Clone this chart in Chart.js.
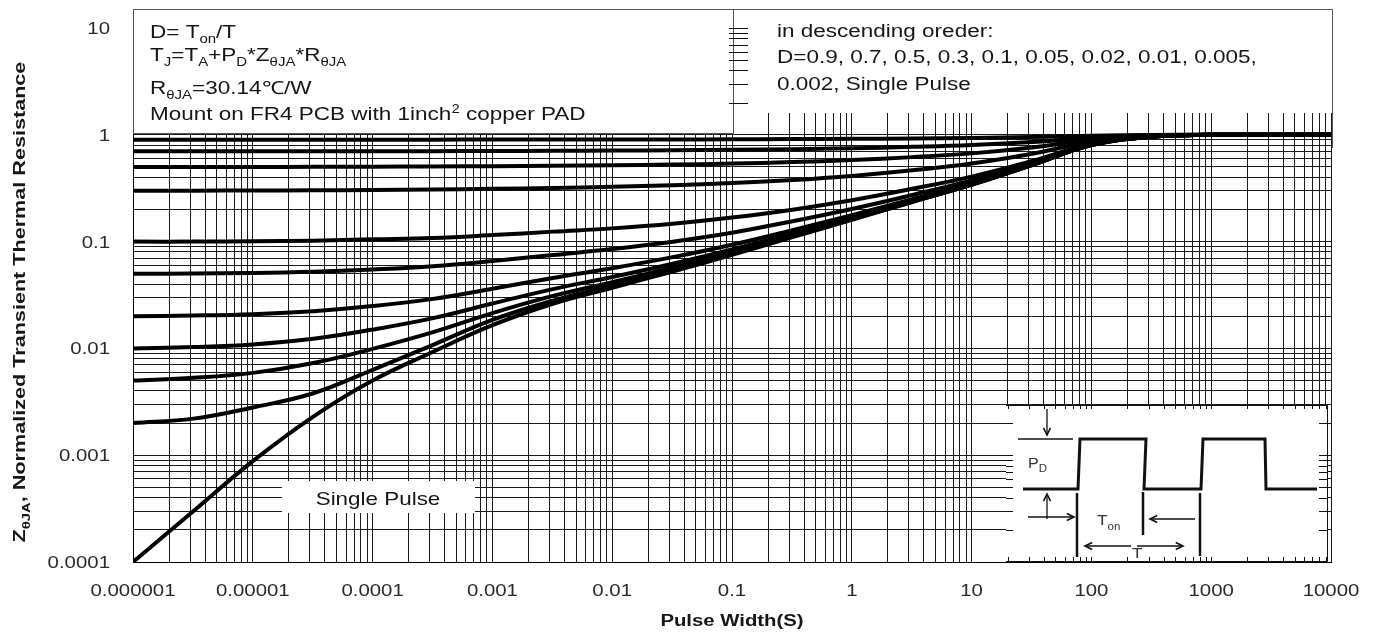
<!DOCTYPE html>
<html>
<head>
<meta charset="utf-8">
<script src="https://cdn.jsdelivr.net/npm/chart.js@4.4.1/dist/chart.umd.min.js"></script>
<style>
  html, body { margin: 0; padding: 0; background: #fff; }
  #wrap { width: 1379px; height: 633px; }
</style>
</head>
<body>
<div id="wrap"><canvas id="chart" width="1379" height="633"></canvas></div>
<script>
// pulse width (s) where each curve was read
const pulseWidth = [1e-6, 3.2e-6, 1e-5, 3.2e-5, 1e-4, 3.2e-4, 1e-3, 3.2e-3, 0.01, 0.032,
                    0.1, 0.32, 1, 3.2, 10, 32, 100, 320, 1000, 3200, 10000];

const seriesNames = ['D=0.9', 'D=0.7', 'D=0.5', 'D=0.3', 'D=0.1', 'D=0.05', 'D=0.02',
                     'D=0.01', 'D=0.005', 'D=0.002', 'Single Pulse'];

const zD09 = [0.9, 0.9, 0.9, 0.9, 0.901, 0.901, 0.902, 0.903, 0.904, 0.905, 0.907, 0.911, 0.916, 0.924, 0.934, 0.952, 0.98, 0.996, 1, 1, 1];
const zD07 = [0.7, 0.7, 0.7, 0.701, 0.702, 0.703, 0.705, 0.708, 0.711, 0.716, 0.723, 0.733, 0.748, 0.771, 0.802, 0.856, 0.94, 0.988, 1, 1, 1];
const zD05 = [0.5, 0.5, 0.5, 0.501, 0.503, 0.505, 0.508, 0.513, 0.519, 0.526, 0.538, 0.555, 0.58, 0.618, 0.67, 0.76, 0.9, 0.98, 1, 1, 1];
const zD03 = [0.3, 0.3, 0.301, 0.302, 0.304, 0.307, 0.312, 0.318, 0.326, 0.337, 0.353, 0.377, 0.412, 0.465, 0.538, 0.664, 0.86, 0.972, 1, 1, 1];
const zD01 = [0.1, 0.1, 0.101, 0.102, 0.105, 0.108, 0.115, 0.124, 0.133, 0.147, 0.168, 0.199, 0.244, 0.312, 0.406, 0.568, 0.82, 0.964, 1, 1, 1];
const zD005 = [0.05, 0.0503, 0.0508, 0.0522, 0.0548, 0.0588, 0.0657, 0.0749, 0.0852, 0.0999, 0.121, 0.155, 0.202, 0.273, 0.373, 0.544, 0.81, 0.962, 1, 1, 1];
const zD002 = [0.02, 0.0203, 0.0209, 0.0223, 0.0249, 0.0291, 0.0362, 0.0457, 0.0563, 0.0715, 0.0935, 0.128, 0.177, 0.25, 0.353, 0.53, 0.804, 0.961, 1, 1, 1];
const zD001 = [0.01, 0.0103, 0.0109, 0.0123, 0.015, 0.0192, 0.0263, 0.0359, 0.0466, 0.062, 0.0843, 0.119, 0.168, 0.243, 0.347, 0.525, 0.802, 0.96, 1, 1, 1];
const zD0005 = [0.005, 0.0053, 0.0059, 0.0073, 0.0099, 0.0142, 0.0214, 0.031, 0.0417, 0.0572, 0.0796, 0.1145, 0.164, 0.239, 0.343, 0.522, 0.801, 0.96, 1, 1, 1];
const zD0002 = [0.002, 0.0022, 0.0028, 0.0038, 0.0063, 0.0108, 0.0185, 0.028, 0.0388, 0.0544, 0.0768, 0.112, 0.162, 0.236, 0.341, 0.521, 0.8, 0.96, 1, 1, 1];
const zSingle = [0.0001, 0.0003, 0.00088, 0.0023, 0.005, 0.0093, 0.0165, 0.0262, 0.037, 0.0525, 0.075, 0.11, 0.16, 0.235, 0.34, 0.52, 0.8, 0.96, 1, 1, 1];

const xTickLabels = ['0.000001', '0.00001', '0.0001', '0.001', '0.01', '0.1', '1', '10', '100', '1000', '10000'];
const yTickLabels = ['0.0001', '0.001', '0.01', '0.1', '1', '10'];

const allSeries = [zD09, zD07, zD05, zD03, zD01, zD005, zD002, zD001, zD0005, zD0002, zSingle];

const FONT = '"Liberation Sans", Arial, sans-serif';
const INK = '#161616';

function logTicks(minExp, maxExp) {
  const t = [];
  for (let e = minExp; e < maxExp; e++) {
    for (let m = 1; m < 10; m++) t.push({ value: Number((m * Math.pow(10, e)).toPrecision(3)) });
  }
  t.push({ value: Math.pow(10, maxExp) });
  return t;
}

function fontFor(kind, size, weight) {
  const s = kind === 'n' ? size : Math.round(size * 0.68);
  return weight + ' ' + s + 'px ' + FONT;
}

function richWidth(ctx, parts, size, weight) {
  let w = 0;
  parts.forEach(([t, k]) => { ctx.font = fontFor(k, size, weight); w += ctx.measureText(t).width; });
  return w;
}

// draws text with sub / superscript pieces, stretched horizontally like the original
function drawRich(ctx, parts, x, y, size, opt) {
  const o = Object.assign({ weight: 'normal', stretch: 1.25, align: 'left', color: INK, rotate: 0 }, opt || {});
  ctx.save();
  ctx.translate(x, y);
  if (o.rotate) ctx.rotate(o.rotate);
  ctx.scale(o.stretch, 1);
  ctx.fillStyle = o.color;
  ctx.textAlign = 'left';
  ctx.textBaseline = 'alphabetic';
  let cx = 0;
  const w = richWidth(ctx, parts, size, o.weight);
  if (o.align === 'center') cx = -w / 2;
  if (o.align === 'right') cx = -w;
  parts.forEach(([t, k]) => {
    ctx.font = fontFor(k, size, o.weight);
    const dy = k === 'sub' ? size * 0.3 : k === 'sup' ? -size * 0.38 : 0;
    ctx.fillText(t, cx, dy);
    cx += ctx.measureText(t).width;
  });
  ctx.restore();
}

function line(ctx, pts, w) {
  ctx.lineWidth = w;
  ctx.beginPath();
  ctx.moveTo(pts[0][0], pts[0][1]);
  pts.slice(1).forEach(p => ctx.lineTo(p[0], p[1]));
  ctx.stroke();
}

function arrow(ctx, x1, y1, x2, y2) {
  line(ctx, [[x1, y1], [x2, y2]], 1.3);
  const a = Math.atan2(y2 - y1, x2 - x1), h = 8;
  line(ctx, [[x2 - h * Math.cos(a - 0.45), y2 - h * Math.sin(a - 0.45)], [x2, y2],
             [x2 - h * Math.cos(a + 0.45), y2 - h * Math.sin(a + 0.45)]], 1.6);
}

const overlay = {
  id: 'overlay',
  afterDatasetsDraw(chart) {
    const ctx = chart.ctx;
    const xs = chart.scales.x, ys = chart.scales.y;
    const ca = chart.chartArea;
    ctx.save();

    // note boxes over the 1..10 band
    const boxTop = 9, midX = 733;
    ctx.fillStyle = '#fff';
    ctx.fillRect(ca.left, boxTop, midX - ca.left, 124);
    ctx.fillRect(midX, boxTop, ca.right + 1 - midX, 104);
    ctx.strokeStyle = '#555';
    ctx.lineWidth = 1;
    ctx.strokeRect(ca.left + 0.5, boxTop + 0.5, midX - ca.left, 124);
    ctx.beginPath();
    ctx.moveTo(midX, boxTop + 0.5); ctx.lineTo(ca.right + 1.5, boxTop + 0.5); ctx.lineTo(ca.right + 1.5, ca.top + 120);
    ctx.stroke();
    // small ticks on the divider at 2..10
    ctx.strokeStyle = '#111';
    for (let m = 2; m <= 10; m++) {
      const py = Math.round(ys.getPixelForValue(m)) + 0.5;
      line(ctx, [[midX - 4, py], [midX + 15, py]], 1);
    }

    const tx = ca.left + 17;
    drawRich(ctx, [['D= T', 'n'], ['on', 'sub'], ['/T', 'n']], tx, 38, 18);
    drawRich(ctx, [['T', 'n'], ['J', 'sub'], ['=T', 'n'], ['A', 'sub'], ['+P', 'n'], ['D', 'sub'],
                   ['*Z', 'n'], ['\u03b8JA', 'sub'], ['*R', 'n'], ['\u03b8JA', 'sub']], tx, 61, 18);
    drawRich(ctx, [['R', 'n'], ['\u03b8JA', 'sub'], ['=30.14\u2103/W', 'n']], tx, 94, 18);
    drawRich(ctx, [['Mount on FR4 PCB with 1inch', 'n'], ['2', 'sup'], [' copper PAD', 'n']], tx, 120, 18);

    const rx = 777;
    drawRich(ctx, [['in descending oreder:', 'n']], rx, 37, 18);
    drawRich(ctx, [['D=0.9, 0.7, 0.5, 0.3, 0.1, 0.05, 0.02, 0.01, 0.005,', 'n']], rx, 63, 18);
    drawRich(ctx, [['0.002, Single Pulse', 'n']], rx, 90, 18);

    // "Single Pulse" label
    ctx.fillStyle = '#fff';
    ctx.fillRect(282, 481, 193, 32);
    drawRich(ctx, [['Single Pulse', 'n']], 378, 505, 19, { align: 'center', stretch: 1.18 });

    // inset: pulse train definition
    const ix0 = 1006, iy0 = 405, ix1 = ca.right - 4, iy1 = ca.bottom - 1;
    ctx.fillStyle = '#fff';
    ctx.fillRect(ix0, iy0, ix1 - ix0, iy1 - iy0);
    ctx.strokeStyle = '#111';
    line(ctx, [[ix0, iy0 + 0.5], [ix1 + 0.5, iy0 + 0.5], [ix1 + 0.5, iy1 + 0.5], [ix0, iy1 + 0.5]], 1);
    xs.ticks.forEach(t => {
      const px = Math.round(xs.getPixelForValue(t.value)) + 0.5;
      if (px > ix0 && px < ix1) {
        line(ctx, [[px, iy0], [px, iy0 + 4]], 1);
        line(ctx, [[px, iy1], [px, iy1 - 4]], 1);
      }
    });
    ys.ticks.forEach(t => {
      const py = Math.round(ys.getPixelForValue(t.value)) + 0.5;
      if (py > iy0 + 2 && py < iy1 - 2) {
        line(ctx, [[ix0, py], [ix0 + 7, py]], 1);
        line(ctx, [[ix1, py], [ix1 - 8, py]], 1);
      }
    });

    const ox = 1001;
    const P = (dx, dy) => [ox + dx, iy0 + dy];
    ctx.strokeStyle = '#111';
    ctx.lineJoin = 'miter';
    line(ctx, [P(17, 34), P(72, 34)], 1.5);
    arrow(ctx, ...P(46, 4), ...P(46, 30));
    line(ctx, [P(22, 84), P(77, 84), P(79, 34), P(145, 34), P(143, 84), P(200, 84), P(202, 34),
               P(264, 34), P(265, 84), P(316, 84)], 3);
    arrow(ctx, ...P(46, 114), ...P(46, 89));
    line(ctx, [P(76, 88), P(76, 152)], 2.5);
    line(ctx, [P(142, 87), P(142, 130)], 2.5);
    line(ctx, [P(199, 88), P(199, 151)], 2.5);
    arrow(ctx, ...P(27, 112), ...P(73, 112));
    arrow(ctx, ...P(194, 114), ...P(149, 114));
    arrow(ctx, ...P(130, 141), ...P(84, 141));
    arrow(ctx, ...P(136, 141), ...P(182, 141));
    const lab = '#3d3128';
    drawRich(ctx, [['P', 'n'], ['D', 'sub']], ...P(27, 63), 14, { color: lab, stretch: 1.15 });
    drawRich(ctx, [['T', 'n'], ['on', 'sub']], ...P(96, 120), 15, { color: lab, stretch: 1.15 });
    drawRich(ctx, [['T', 'n']], ...P(131, 153), 15, { color: lab, stretch: 1.15 });

    ctx.restore();
  },
  afterDraw(chart) {
    const ctx = chart.ctx;
    const xs = chart.scales.x, ys = chart.scales.y;
    ctx.save();
    xTickLabels.forEach(lbl => {
      drawRich(ctx, [[lbl, 'n']], xs.getPixelForValue(Number(lbl)), 596, 17, { align: 'center', stretch: 1.2, color: '#2a2a2a' });
    });
    yTickLabels.forEach(lbl => {
      drawRich(ctx, [[lbl, 'n']], 110, ys.getPixelForValue(Number(lbl)) + 6, 17, { align: 'right', stretch: 1.2, color: '#2a2a2a' });
    });
    drawRich(ctx, [['Pulse Width(S)', 'n']], (chart.chartArea.left + chart.chartArea.right) / 2, 626, 16,
             { weight: 'bold', align: 'center', stretch: 1.27 });
    drawRich(ctx, [['Z', 'n'], ['\u03b8JA', 'sub'], [', Normalized Transient Thermal Resistance', 'n']], 25, 302, 16,
             { weight: 'bold', align: 'center', stretch: 1.35, rotate: -Math.PI / 2 });
    ctx.restore();
  }
};

new Chart(document.getElementById('chart'), {
  type: 'line',
  data: {
    datasets: allSeries.map((arr, i) => ({
      label: seriesNames[i],
      data: pulseWidth.map((x, j) => ({ x: x, y: arr[j] })),
      borderColor: '#000',
      borderWidth: 4,
      pointRadius: 0,
      tension: 0.4,
      fill: false
    }))
  },
  options: {
    responsive: false,
    animation: false,
    devicePixelRatio: 1,
    layout: { padding: { left: 0, right: 48, top: 28, bottom: 0 } },
    plugins: { legend: { display: false }, tooltip: { enabled: false } },
    scales: {
      x: {
        type: 'logarithmic',
        min: 1e-6,
        max: 1e4,
        afterBuildTicks: s => { s.ticks = logTicks(-6, 4); },
        afterFit: s => { s.height = 71; },
        ticks: { display: false, autoSkip: false },
        grid: { color: '#1a1a1a', lineWidth: 1, drawTicks: false },
        border: { color: '#000', width: 1 }
      },
      y: {
        type: 'logarithmic',
        min: 1e-4,
        max: 10,
        afterBuildTicks: s => { s.ticks = logTicks(-4, 1); },
        afterFit: s => { s.width = 133; },
        ticks: { display: false, autoSkip: false },
        grid: { color: '#1a1a1a', lineWidth: 1, drawTicks: false },
        border: { color: '#000', width: 1 }
      }
    }
  },
  plugins: [overlay]
});
</script>
</body>
</html>
